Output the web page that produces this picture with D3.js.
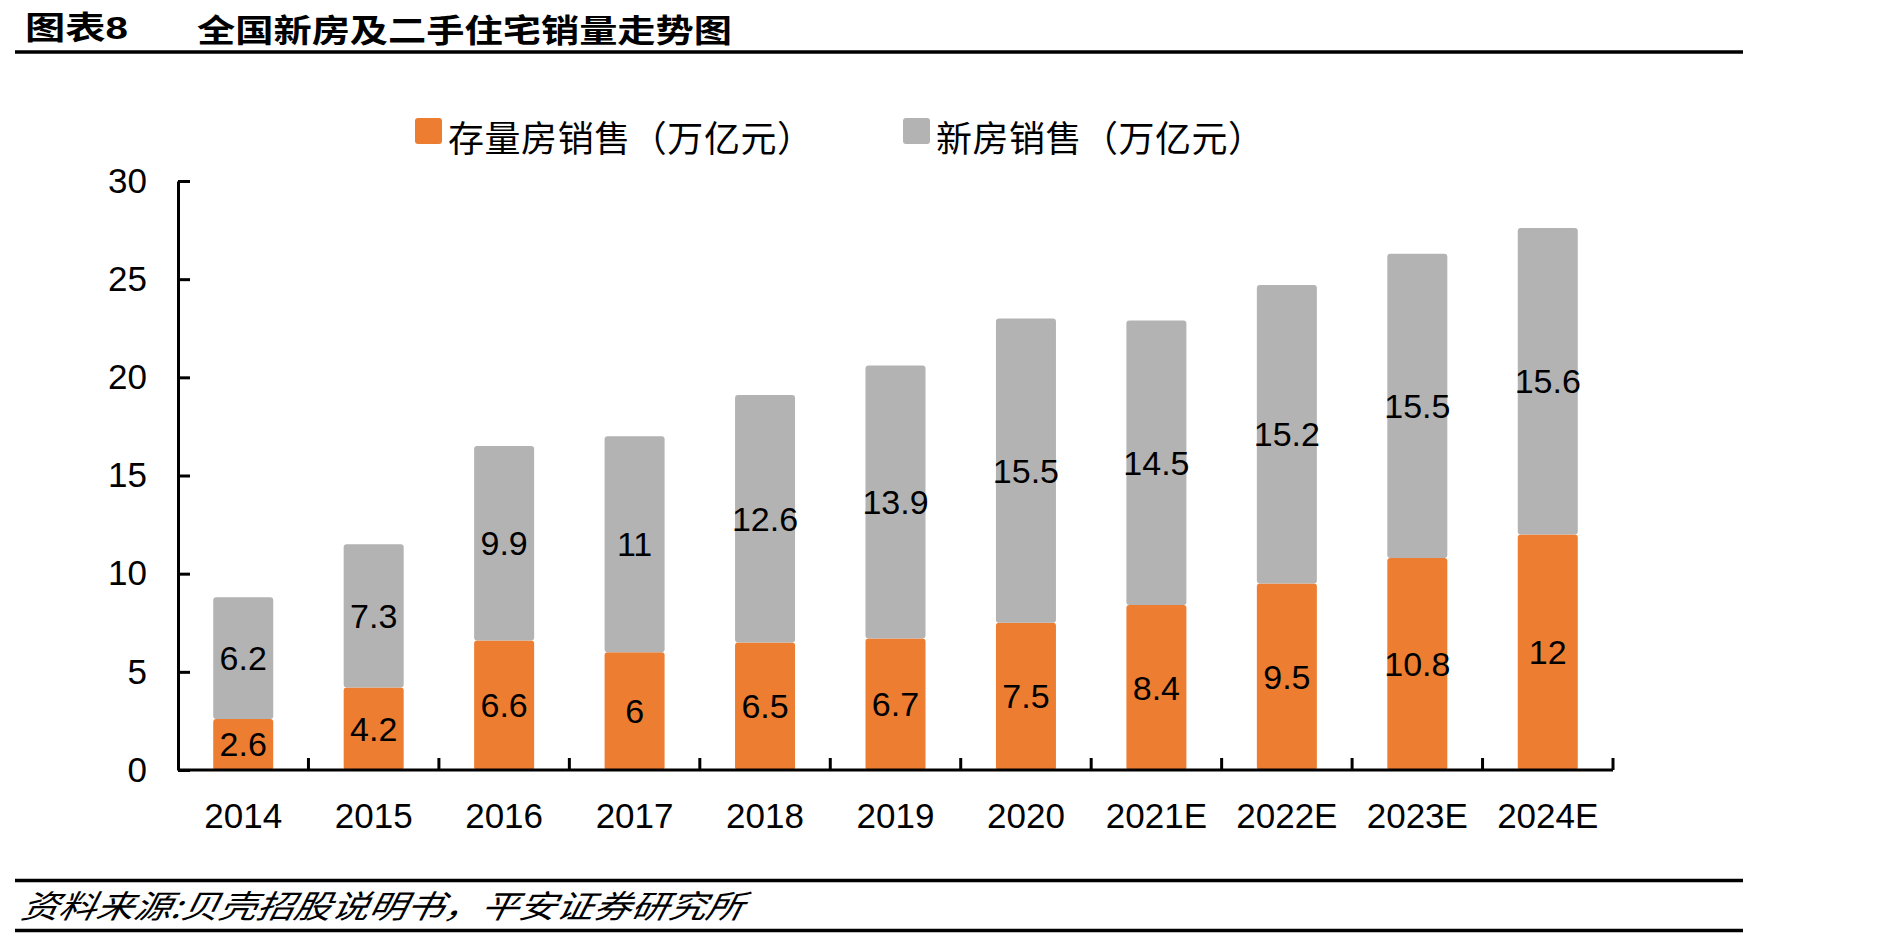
<!DOCTYPE html>
<html>
<head>
<meta charset="utf-8">
<script src="https://cdn.jsdelivr.net/npm/d3@7"></script>
<style>
  body { margin: 0; background: #fff; }
  svg { display: block; }
</style>
</head>
<body>
<div id="chart"></div>
<script>
var years = ["2014", "2015", "2016", "2017", "2018", "2019", "2020", "2021E", "2022E", "2023E", "2024E"];
var existingSales = [2.6, 4.2, 6.6, 6, 6.5, 6.7, 7.5, 8.4, 9.5, 10.8, 12];
var newSales = [6.2, 7.3, 9.9, 11, 12.6, 13.9, 15.5, 14.5, 15.2, 15.5, 15.6];
var seriesNames = ["存量房销售（万亿元）", "新房销售（万亿元）"];
var yTicks = [0, 5, 10, 15, 20, 25, 30];

var width = 1889, height = 937;
var numFont = "'Liberation Sans', Arial, 'Noto Sans CJK SC', sans-serif";
var cjkFont = "'Noto Sans CJK SC', 'Liberation Sans', sans-serif";
var colors = ["#ED7D31", "#B3B3B3"];

var svg = d3.select("#chart").append("svg")
    .attr("width", width)
    .attr("height", height);

// title
svg.append("text")
    .attr("x", 25).attr("y", 28)
    .attr("dominant-baseline", "central")
    .attr("font-family", numFont)
    .attr("font-weight", "bold")
    .attr("font-size", 32)
    .attr("textLength", 103)
    .attr("lengthAdjust", "spacingAndGlyphs")
    .text("图表8");
svg.append("text")
    .attr("x", 197).attr("y", 28)
    .attr("dominant-baseline", "central")
    .attr("font-family", cjkFont)
    .attr("font-weight", "bold")
    .attr("font-size", 32)
    .attr("textLength", 535)
    .attr("lengthAdjust", "spacingAndGlyphs")
    .text("全国新房及二手住宅销量走势图");

// rules
[52, 880.5, 930.5].forEach(function(yy) {
    svg.append("line")
        .attr("x1", 15).attr("x2", 1743)
        .attr("y1", yy).attr("y2", yy)
        .attr("stroke", "#000")
        .attr("stroke-width", 3.5);
});

// source
svg.append("text")
    .attr("x", 23).attr("y", 904)
    .attr("dominant-baseline", "central")
    .attr("font-family", cjkFont)
    .attr("font-style", "italic")
    .attr("font-size", 32)
    .attr("textLength", 722)
    .attr("lengthAdjust", "spacingAndGlyphs")
    .attr("transform", "skewX(-12) translate(192,0)")
    .text("资料来源:贝壳招股说明书，平安证券研究所");

// scales
var x = d3.scaleBand()
    .domain(years)
    .range([178, 1613])
    .paddingInner(0.54)
    .paddingOuter(0.27);

var y = d3.scaleLinear()
    .domain([0, 30])
    .range([770, 181]);

// stacked data
var keys = ["existing", "fresh"];
var table = years.map(function(d, i) {
    return { year: d, existing: existingSales[i], fresh: newSales[i] };
});
var layers = d3.stack().keys(keys)(table);

var layer = svg.selectAll(".layer")
    .data(layers)
  .enter().append("g")
    .attr("class", "layer")
    .attr("fill", function(d, i) { return colors[i]; });

layer.selectAll("rect")
    .data(function(d) { return d; })
  .enter().append("rect")
    .attr("x", function(d) { return x(d.data.year); })
    .attr("y", function(d) { return y(d[1]); })
    .attr("width", x.bandwidth())
    .attr("height", function(d) { return y(d[0]) - y(d[1]); })
    .attr("rx", 3);

layer.selectAll(".label")
    .data(function(d) { var k = d.key; return d.map(function(p) { return { p: p, v: p.data[k] }; }); })
  .enter().append("text")
    .attr("class", "label")
    .attr("x", function(d) { return x(d.p.data.year) + x.bandwidth() / 2; })
    .attr("y", function(d) { return (y(d.p[0]) + y(d.p[1])) / 2; })
    .attr("text-anchor", "middle")
    .attr("dominant-baseline", "central")
    .attr("font-family", numFont)
    .attr("font-size", 34)
    .attr("fill", "#000")
    .text(function(d) { return d.v; });

// y axis
var yAxis = d3.axisLeft(y)
    .tickValues(yTicks)
    .tickSizeInner(-12)
    .tickSizeOuter(0)
    .tickPadding(31);

var yg = svg.append("g")
    .attr("transform", "translate(178,0)")
    .call(yAxis);
yg.select(".domain").attr("stroke", "#000").attr("stroke-width", 3);
yg.selectAll(".tick line").attr("stroke", "#000").attr("stroke-width", 3);
yg.selectAll(".tick text")
    .attr("font-family", numFont)
    .attr("font-size", 35)
    .attr("fill", "#000");

// x axis
var xg = svg.append("g");
xg.append("line")
    .attr("x1", 178).attr("x2", 1613)
    .attr("y1", 770).attr("y2", 770)
    .attr("stroke", "#000").attr("stroke-width", 3);
xg.selectAll(".xtick")
    .data(d3.range(1, years.length + 1))
  .enter().append("line")
    .attr("class", "xtick")
    .attr("x1", function(i) { return 178 + i * x.step(); })
    .attr("x2", function(i) { return 178 + i * x.step(); })
    .attr("y1", 770).attr("y2", 758)
    .attr("stroke", "#000").attr("stroke-width", 3);
xg.selectAll(".xlabel")
    .data(years)
  .enter().append("text")
    .attr("class", "xlabel")
    .attr("x", function(d) { return x(d) + x.bandwidth() / 2; })
    .attr("y", 815)
    .attr("text-anchor", "middle")
    .attr("dominant-baseline", "central")
    .attr("font-family", numFont)
    .attr("font-size", 35)
    .text(function(d) { return d; });

// legend
var legendX = [415, 903];
var legendW = [365, 328];
var legend = svg.selectAll(".legend")
    .data(seriesNames)
  .enter().append("g")
    .attr("class", "legend")
    .attr("transform", function(d, i) { return "translate(" + legendX[i] + ",0)"; });
legend.append("rect")
    .attr("x", 0).attr("y", 118)
    .attr("width", 27).attr("height", 26)
    .attr("rx", 3)
    .attr("fill", function(d, i) { return colors[i]; });
legend.append("text")
    .attr("x", 33).attr("y", 136)
    .attr("dominant-baseline", "central")
    .attr("font-family", cjkFont)
    .attr("font-size", 36)
    .attr("textLength", function(d, i) { return legendW[i]; })
    .attr("lengthAdjust", "spacing")
    .text(function(d) { return d; });
</script>
</body>
</html>
